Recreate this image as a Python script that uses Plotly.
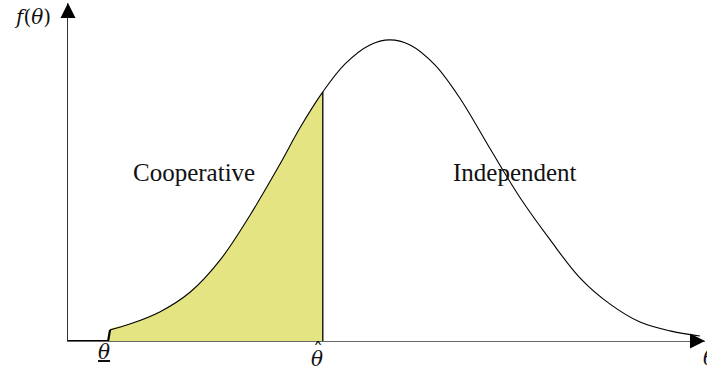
import plotly.graph_objects as go

# ── Density curve (theta on a 0–10 scale) ───────────────────────────────────
theta_floor = [0.0, 0.63]            # f = 0 below the lower bound
theta_low = 0.63                     # underline-theta
theta_hat = 4.0                      # hat-theta (cut-off)

theta = [0.66, 0.97, 1.44, 1.92, 2.39, 2.86, 3.33, 3.64, 4.0, 4.35, 4.74,
         5.05, 5.37, 5.76, 6.15, 6.62, 7.10, 7.57, 8.04, 8.51, 8.98, 9.45, 9.92]
density = [0.033, 0.050, 0.086, 0.145, 0.240, 0.373, 0.524, 0.630, 0.737,
           0.820, 0.876, 0.891, 0.876, 0.817, 0.719, 0.571, 0.423, 0.299,
           0.186, 0.109, 0.056, 0.030, 0.015]

region_labels = ["Cooperative", "Independent"]
region_theta = [1.98, 7.02]
region_density = [0.50, 0.50]

# ── Style ────────────────────────────────────────────────────────────────────
FILL = "#E4E582"
INK = "#000000"
FONT = dict(family="Liberation Serif, DejaVu Serif, serif", size=25, color="#111111")
MATH = dict(family="DejaVu Serif, serif", size=20, color="#111111")

coop_x = [t for t in theta if t <= theta_hat]
coop_y = density[:len(coop_x)]
hat_density = density[theta.index(theta_hat)]

fig = go.Figure()

# shaded cooperative region
fig.add_trace(go.Scatter(
    x=[theta_low] + coop_x, y=[0] + coop_y,
    mode="lines", line=dict(width=0, shape="spline"),
    fill="tozeroy", fillcolor=FILL, hoverinfo="skip", showlegend=False,
))

# zero part of the density + the jump at the lower bound
fig.add_trace(go.Scatter(
    x=theta_floor + [theta[0]], y=[0, 0, density[0]],
    mode="lines", line=dict(color=INK, width=2.2),
    hoverinfo="skip", showlegend=False,
))

# density curve
fig.add_trace(go.Scatter(
    x=theta, y=density,
    mode="lines", line=dict(color=INK, width=1.1, shape="spline"),
    hoverinfo="skip", showlegend=False,
))

# cut-off line at hat-theta
fig.add_trace(go.Scatter(
    x=[theta_hat, theta_hat], y=[0, hat_density],
    mode="lines", line=dict(color=INK, width=1.3),
    hoverinfo="skip", showlegend=False,
))

annotations = []
for label, tx, ty in zip(region_labels, region_theta, region_density):
    annotations.append(dict(x=tx, y=ty, text=label, showarrow=False, font=FONT))

# axis arrowheads
annotations.append(dict(x=10, y=0, ax=-16, ay=0, text="", showarrow=True,
                        arrowhead=2, arrowsize=3, arrowwidth=1, arrowcolor=INK))
annotations.append(dict(x=0, y=1, ax=0, ay=16, text="", showarrow=True,
                        arrowhead=2, arrowsize=3, arrowwidth=1, arrowcolor=INK))

# axis labels
annotations += [
    dict(xref="paper", yref="paper", x=-0.0565, y=0.959, xanchor="center", yanchor="middle",
         text="<i>f</i>(<i>θ</i>)", showarrow=False, font=MATH),
    dict(x=theta_low, y=0, text="<u><i>θ</i></u>", showarrow=False, font=MATH,
         xanchor="center", yanchor="top", xshift=-4, yshift=3),
    dict(x=theta_hat, y=0, text="<i>θ</i>", showarrow=False, font=MATH,
         xanchor="center", yanchor="top", xshift=-6, yshift=-4),
    dict(x=theta_hat, y=0, text="ˆ", showarrow=False, font=MATH,
         xanchor="center", yanchor="top", xshift=-5, yshift=4),
    dict(xref="paper", x=1.0, y=0, text="<i>θ</i>", showarrow=False, font=MATH,
         xanchor="left", yanchor="top", xshift=-4, yshift=-3),
]

fig.update_layout(
    width=707, height=372,
    margin=dict(l=68, r=2, t=3, b=31),
    paper_bgcolor="white", plot_bgcolor="white",
    xaxis=dict(range=[0, 10], showgrid=False, zeroline=False, showticklabels=False,
               ticks="", showline=True, linecolor="#666666", linewidth=1, fixedrange=True),
    yaxis=dict(range=[0, 1], showgrid=False, zeroline=False, showticklabels=False,
               ticks="", showline=True, linecolor="#333333", linewidth=1, fixedrange=True),
    annotations=annotations,
    showlegend=False,
)

fig.write_html("out.html", config=dict(displayModeBar=False),
               post_script="document.body.style.margin='0';")
